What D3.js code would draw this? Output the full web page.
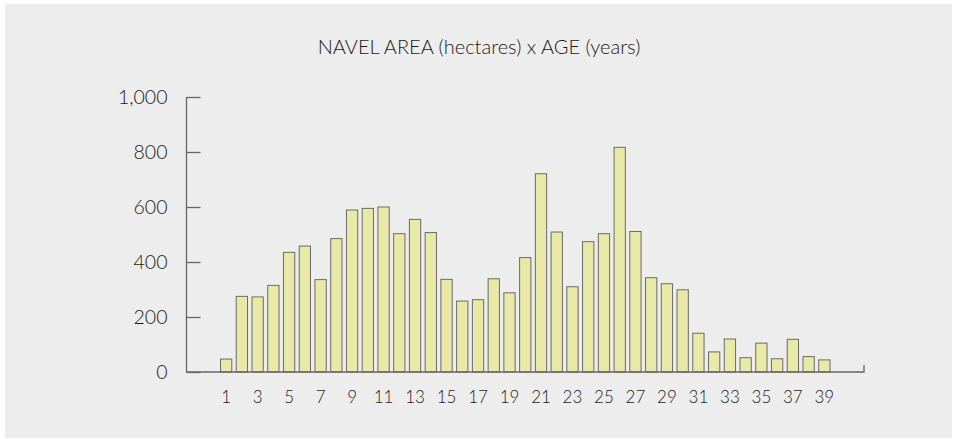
<!DOCTYPE html>
<html>
<head>
<meta charset="utf-8">
<script src="https://cdn.jsdelivr.net/npm/d3@7"></script>
<style>
  html, body { margin: 0; padding: 0; background: #ffffff; }
  svg { display: block; }
  text { font-family: Lato, "Open Sans", sans-serif; font-weight: 300; fill: #1a1a1a; }
</style>
</head>
<body>
<svg id="chart" width="954" height="439"></svg>
<script>
const title = "NAVEL AREA (hectares) x AGE (years)";
const ages = d3.range(1, 40);
const areas = [47, 275, 273, 315, 435, 458, 336, 485, 589, 595,
               600, 503, 555, 507, 337, 258, 263, 339, 288, 416,
               721, 509, 310, 474, 503, 817, 511, 343, 321, 299,
               141, 73, 120, 52, 105, 48, 119, 56, 44];
const yTicks = [0, 200, 400, 600, 800, 1000];
const xTickLabels = ages.filter(a => a % 2 === 1);

const svg = d3.select("#chart");
svg.append("rect").attr("x", 5).attr("y", 4).attr("width", 947).attr("height", 434).attr("fill", "#ededed");

const x = d3.scaleBand().domain(ages).range([186.5, 864]).paddingInner(0.283).paddingOuter(2.16);
const y = d3.scaleLinear().domain([0, 1000]).range([372, 97]);

svg.append("text").attr("x", 479).attr("y", 54).attr("text-anchor", "middle")
  .attr("font-size", 20).text(title);

// bars
svg.append("g").selectAll("rect").data(ages).join("rect")
  .attr("x", d => x(d))
  .attr("y", (d, i) => y(areas[i]))
  .attr("width", x.bandwidth())
  .attr("height", (d, i) => y(0) - y(areas[i]))
  .attr("fill", "#e8e9a7")
  .attr("stroke", "#6a6a6a")
  .attr("stroke-width", 1);

// y axis
const gy = svg.append("g").attr("transform", "translate(186.5,0)")
  .call(d3.axisRight(y).tickValues(yTicks).tickSize(14).tickFormat(d3.format(",")));
gy.select(".domain").attr("stroke", "#666").attr("stroke-width", 1.3).attr("d", `M0,${y(1000)}V${y(0)}`);
gy.selectAll(".tick line").attr("stroke", "#666").attr("stroke-width", 1.3);
gy.selectAll(".tick text").attr("x", -19).attr("text-anchor", "end")
  .attr("font-size", 19.5).attr("font-family", "Lato, sans-serif").attr("fill", "#1a1a1a");

// x axis line
svg.append("path").attr("d", `M186.5,${y(0)}H864V${y(0) - 7}`)
  .attr("fill", "none").attr("stroke", "#666").attr("stroke-width", 1.3);

// x labels
const gx = svg.append("g").attr("transform", `translate(0,${y(0)})`)
  .call(d3.axisBottom(x).tickValues(xTickLabels).tickSize(0).tickPadding(19));
gx.select(".domain").remove();
gx.selectAll(".tick text").attr("font-size", 17).attr("font-family", "Lato, sans-serif").attr("fill", "#1a1a1a");
</script>
</body>
</html>
